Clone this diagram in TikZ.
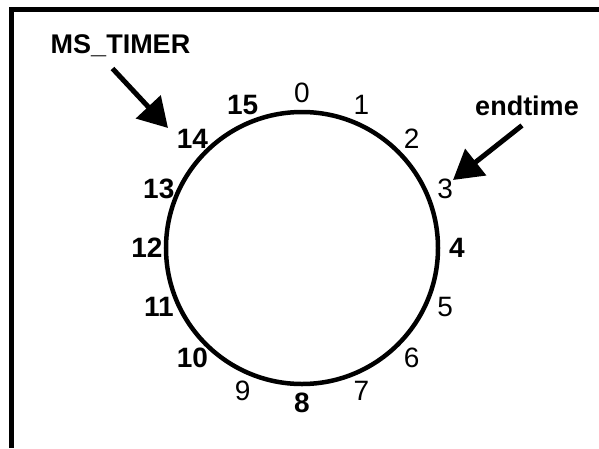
\documentclass[tikz,border=0pt]{standalone}
\usepackage{fontspec}
\setmainfont{Liberation Sans}
\usetikzlibrary{arrows.meta, calc}

\begin{document}
\begin{tikzpicture}[x=1pt, y=1pt,
    ring/.style={line width=4.5pt},
    tick/.style={font=\fontsize{28}{32}\selectfont, inner sep=0pt},
    tickbold/.style={tick, font=\fontsize{28}{32}\selectfont\bfseries},
    caption/.style={font=\fontsize{27}{32}\selectfont\bfseries, inner sep=0pt, anchor=base},
    pointer/.style={line width=5pt, -{Triangle[length=29pt, width=33pt]}}]
  \useasboundingbox (-302,-200) rectangle (297,248);
  % ── frame (left and top edges only)
  \draw[line width=5pt] (-290.5,-200) -- (-290.5,238.5) -- (297,238.5);
  % ── the ring with its 16 positions
  \draw[ring] (0,0) circle (136);
  \foreach \i/\w in {0/tick, 1/tick, 2/tick, 3/tick, 4/tickbold, 5/tick, 6/tick, 7/tick,
      8/tickbold, 9/tick, 10/tickbold, 11/tickbold, 12/tickbold, 13/tickbold, 14/tickbold, 15/tickbold} {
    \node[\w] (l\i) at ({90-22.5*\i}:155) {\i};
  }
  % ── pointers
  \node[caption] (timer) at (-181.5,195) {MS\_TIMER};
  \node[caption] (endtime) at (225,133) {endtime};
  \coordinate (timertip) at (-134,120);
  \coordinate (endtip) at (151,68);
  \draw[pointer] ($(timer.south)+(-8,-12)$) -- (timertip);
  \draw[pointer] ($(endtime.south)+(-5,-10)$) -- (endtip);
\end{tikzpicture}
\end{document}
